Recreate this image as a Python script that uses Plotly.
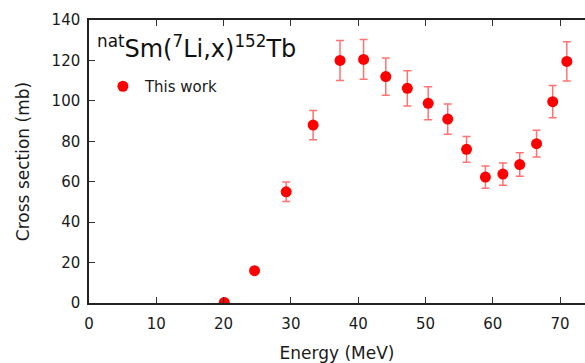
import plotly.graph_objects as go

energy = [20.1, 24.6, 29.3, 33.3, 37.3, 40.8, 44.1, 47.3, 50.4, 53.3, 56.1, 58.9, 61.5, 64.0, 66.5, 68.9, 71.0]
cross_section = [0.3, 16.0, 55.0, 88.0, 120.0, 120.5, 112.0, 106.2, 98.8, 91.0, 76.0, 62.3, 63.8, 68.5, 78.8, 99.6, 119.5]
errors = [0.3, 1.0, 4.8, 7.2, 9.9, 9.8, 9.2, 8.7, 8.2, 7.5, 6.4, 5.5, 5.5, 5.8, 6.6, 8.0, 9.7]

x_ticks = [0, 10, 20, 30, 40, 50, 60, 70]
y_ticks = [0, 20, 40, 60, 80, 100, 120, 140]

FONT = "DejaVu Sans"

fig = go.Figure()
fig.add_trace(go.Scatter(
    x=energy, y=cross_section, mode="markers", name="This work",
    marker=dict(color="#ff0000", size=11),
    error_y=dict(type="data", array=errors, color="rgba(255,40,40,0.65)", thickness=1.5, width=4),
))
# invisible trace for top axis
fig.add_trace(go.Scatter(x=[energy[0]], y=[cross_section[0]], xaxis="x2", mode="markers",
                         marker=dict(opacity=0), showlegend=False, hoverinfo="skip"))

fig.update_layout(
    width=585, height=363,
    margin=dict(l=89, r=0, t=20, b=60),
    paper_bgcolor="white", plot_bgcolor="white",
    font=dict(family=FONT, size=15, color="#1a1a1a"),
    xaxis=dict(range=[0, 73.7], tickvals=x_ticks, ticks="inside", ticklen=6, tickcolor="#333",
               showline=True, linecolor="#222", linewidth=1.5, showgrid=False, zeroline=False,
               automargin=False, ticklabelstandoff=6,
               title=dict(text="Energy (MeV)", font=dict(size=17), standoff=16)),
    xaxis2=dict(overlaying="x", matches="x", side="top", tickvals=x_ticks, ticks="inside",
                ticklen=6, tickcolor="#333", showticklabels=False, showline=True,
                linecolor="#222", linewidth=1.5, showgrid=False, zeroline=False, automargin=False),
    yaxis=dict(range=[0, 140], tickvals=y_ticks, ticks="inside", ticklen=6, tickcolor="#333",
               showline=True, linecolor="#222", linewidth=1.5, showgrid=False, zeroline=False,
               automargin=False, ticklabelstandoff=4,
               title=dict(text="Cross section (mb)", font=dict(size=17), standoff=18)),
    legend=dict(x=0.024, y=0.765, xanchor="left", yanchor="middle", bgcolor="rgba(0,0,0,0)",
                font=dict(size=15), itemwidth=34),
    showlegend=True,
    annotations=[dict(text="<sup>nat</sup>Sm(<sup>7</sup>Li,x)<sup>152</sup>Tb", x=0.012, y=0.905,
                      xref="paper", yref="paper", xanchor="left", yanchor="middle",
                      showarrow=False, font=dict(size=24, family=FONT, color="#111"))],
)

fig.write_html("out.html", config={"displayModeBar": False},
               post_script="document.body.style.margin='0';")
